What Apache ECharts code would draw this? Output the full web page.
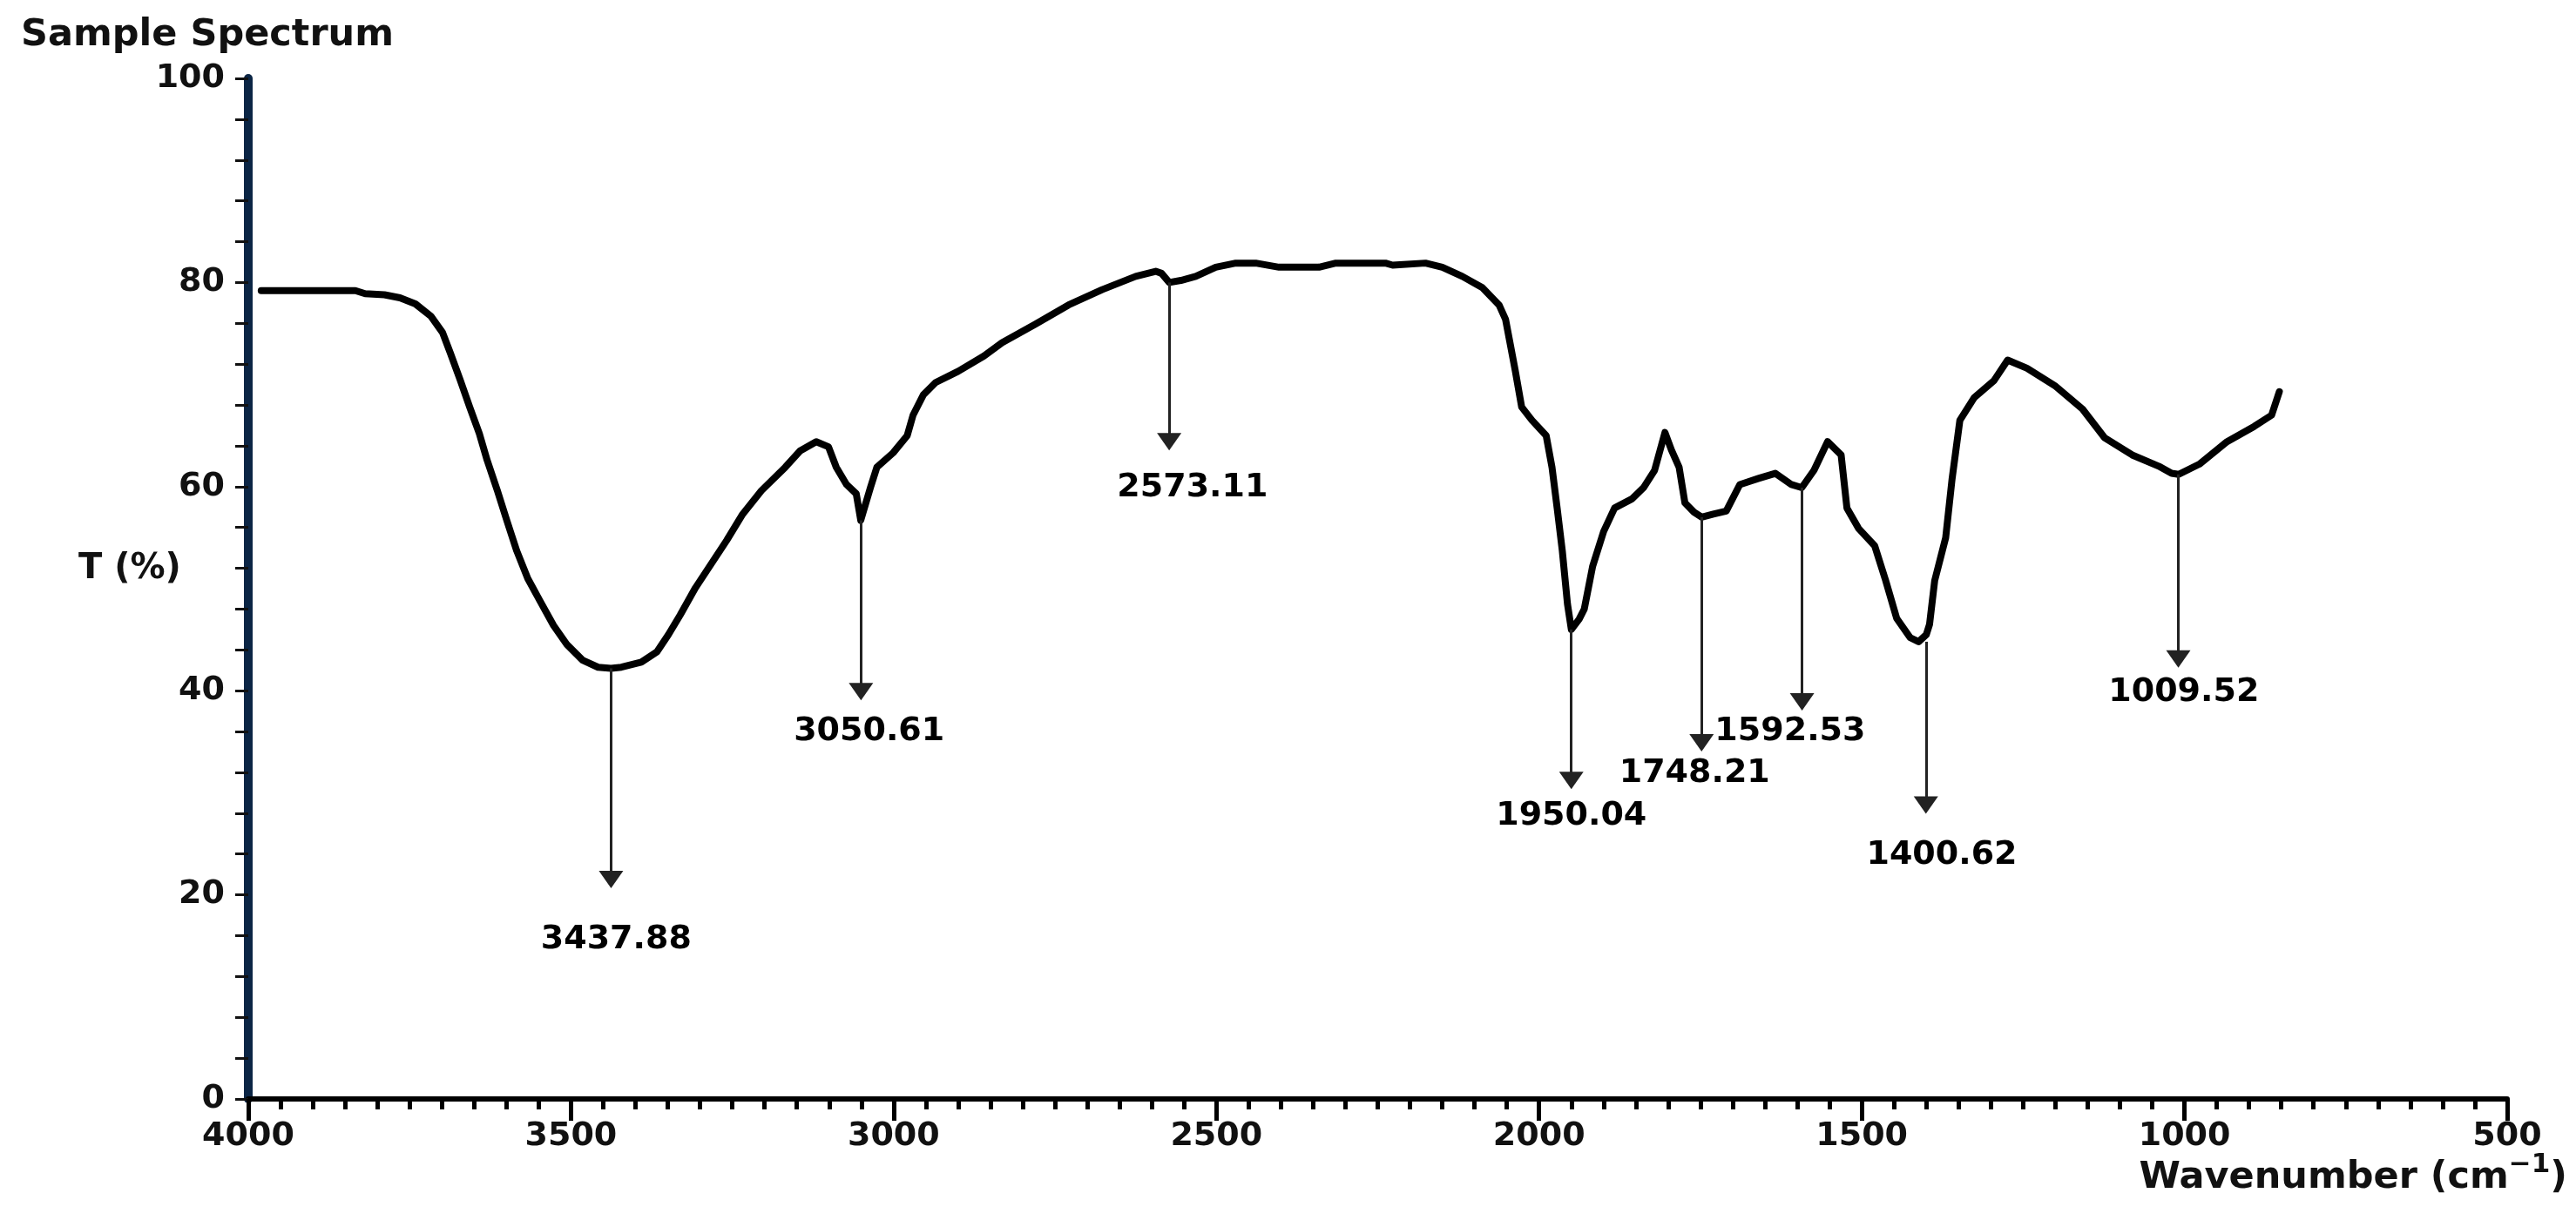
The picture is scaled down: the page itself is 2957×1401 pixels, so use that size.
<!DOCTYPE html>
<html>
<head>
<meta charset="utf-8">
<script src="https://cdn.jsdelivr.net/npm/echarts@6/dist/echarts.min.js"></script>
<style>
html,body{margin:0;padding:0;background:#ffffff;}
#chart{width:2957px;height:1401px;}
</style>
</head>
<body>
<div id="chart"></div>
<script>
// ---- Data ----
const wavenumbers = [3980,3900,3834,3819,3789,3765,3741,3717,3699,3687,3672,3657,3642,3630,3614,3599,3584,3567,3548,3527,3506,3482,3458,3438,3422,3391,3367,3349,3331,3307,3283,3259,3234,3205,3168,3145,3120,3101,3089,3073,3058,3051,3036,3026,3001,2979,2970,2954,2935,2900,2860,2832,2781,2729,2677,2625,2594,2585,2573,2555,2532,2501,2470,2439,2403,2341,2315,2238,2227,2176,2150,2119,2088,2062,2052,2046,2037,2027,2011,1989,1980,1972,1964,1956,1950,1938,1930,1917,1900,1883,1856,1838,1821,1805,1795,1783,1774,1760,1748,1730,1710,1689,1660,1634,1609,1593,1574,1553,1532,1523,1505,1480,1463,1446,1425,1412,1400,1395,1387,1370,1360,1348,1326,1295,1274,1244,1201,1158,1124,1081,1040,1020,1009,977,934,892,865,853];
const transmittance = [79.2,79.2,79.2,78.9,78.8,78.5,77.9,76.7,75.1,73.1,70.5,67.8,65.2,62.6,59.6,56.6,53.7,51.0,48.8,46.4,44.5,43.0,42.3,42.2,42.3,42.8,43.8,45.5,47.4,50.1,52.4,54.7,57.3,59.6,61.9,63.5,64.4,63.9,61.9,60.2,59.3,56.7,59.9,61.9,63.3,65.0,67.0,69.0,70.2,71.3,72.8,74.1,75.9,77.8,79.3,80.6,81.1,80.9,80.0,80.2,80.6,81.5,81.9,81.9,81.5,81.5,81.9,81.9,81.7,81.9,81.5,80.6,79.5,77.8,76.4,74.4,71.4,67.8,66.5,65.0,61.9,57.9,53.7,48.5,46.0,47.0,48.0,52.2,55.6,57.9,58.8,59.9,61.6,65.3,63.6,61.9,58.4,57.5,57.0,57.3,57.6,60.2,60.8,61.3,60.2,59.9,61.6,64.4,63.1,57.9,55.9,54.2,50.8,47.1,45.2,44.8,45.5,46.5,50.8,55.0,60.8,66.5,68.7,70.4,72.4,71.6,69.9,67.6,64.8,63.1,62.0,61.3,61.2,62.2,64.4,65.9,67.0,69.3];

const peakLabels = ['3437.88','3050.61','2573.11','1950.04','1748.21','1592.53','1400.62','1009.52'];
const peakWavenumbers = [3437.88,3050.61,2573.11,1950.04,1748.21,1592.53,1400.62,1009.52];
const arrowStartT = [42.2,56.7,80.0,46.0,57.0,59.9,44.8,61.2];
const arrowEndT = [21.5,39.9,64.4,31.2,34.9,38.9,28.8,43.1];
const labelWavenumbers = [3430,3038,2537,1950,1759,1611,1376,1001];
const labelT = [15.6,36.0,59.9,27.7,31.9,36.0,23.9,39.8];

const xTickValues = [4000,3500,3000,2500,2000,1500,1000,500];
const yTickValues = [0,20,40,60,80,100];

const FONT = 'DejaVu Sans';

const chart = echarts.init(document.getElementById('chart'), null, {renderer:'canvas'});

const spectrum = wavenumbers.map((w,i)=>[w, transmittance[i]]);
const arrows = peakWavenumbers.map((w,i)=>[
  {coord:[w, arrowStartT[i]], symbol:'none'},
  {coord:[w, arrowEndT[i]], symbol:'triangle', symbolSize:[28,20]}
]);
const labelPoints = labelWavenumbers.map((w,i)=>({name: peakLabels[i], value:[w, labelT[i]]}));

chart.setOption({
  animation:false,
  backgroundColor:'#ffffff',
  title:{
    text:'Sample Spectrum',
    left:19, top:14,
    textStyle:{fontFamily:FONT, fontWeight:'bold', fontSize:43, color:'#111'}
  },
  grid:{left:285, right:79, top:90, bottom:139, containLabel:false, outerBoundsMode:'none'},
  xAxis:{
    type:'value', inverse:true, min:500, max:4000, interval:500,
    splitLine:{show:false},
    axisLine:{show:true, onZero:false, lineStyle:{color:'#000', width:6}},
    axisTick:{show:true, inside:false, length:25, lineStyle:{color:'#000', width:5}},
    minorTick:{show:true, splitNumber:10, length:12, lineStyle:{color:'#000', width:5}},
    axisLabel:{
      margin:24, fontFamily:FONT, fontWeight:'bold', fontSize:38, color:'#111',
      showMinLabel:true, showMaxLabel:true,
      formatter:function(v){ return xTickValues.indexOf(v) >= 0 ? String(v) : ''; }
    }
  },
  yAxis:{
    type:'value', min:0, max:100, interval:20,
    splitLine:{show:false},
    axisLine:{show:true, onZero:false, lineStyle:{color:'#0b2545', width:10}},
    axisTick:{show:true, inside:false, length:15, lineStyle:{color:'#111', width:3}},
    minorTick:{show:true, splitNumber:5, length:15, lineStyle:{color:'#111', width:3}},
    axisLabel:{
      margin:27, fontFamily:FONT, fontWeight:'bold', fontSize:38, color:'#111',
      formatter:function(v){ return yTickValues.indexOf(v) >= 0 ? String(v) : ''; }
    }
  },
  graphic:[
    {
      type:'text', left:90, top:634,
      style:{text:'T (%)', fontFamily:FONT, fontWeight:'bold', fontSize:40, fill:'#111'}
    },
    {
      type:'text', right:10, top:1322,
      style:{
        text:'{m|Wavenumber (cm}{s|\u22121}{m|)}',
        rich:{
          m:{fontFamily:FONT, fontWeight:'bold', fontSize:43, fill:'#111', verticalAlign:'bottom', lineHeight:52},
          s:{fontFamily:FONT, fontWeight:'bold', fontSize:31, fill:'#111', verticalAlign:'top', lineHeight:52, padding:[0,0,22,0]}
        }
      }
    }
  ],
  series:[
    {
      type:'line', data:spectrum, showSymbol:false, smooth:false, silent:true,
      lineStyle:{color:'#000', width:8, join:'round', cap:'round'},
      z:3,
      markLine:{
        silent:true, animation:false,
        lineStyle:{color:'#222', width:3, type:'solid', opacity:1},
        itemStyle:{color:'#000', opacity:1},
        label:{show:false},
        emphasis:{disabled:true},
        data:arrows
      }
    },
    {
      type:'scatter', data:labelPoints, symbolSize:0, silent:true, z:5,
      itemStyle:{opacity:1},
      label:{
        show:true, position:'inside', opacity:1,
        formatter:function(p){ return p.name; },
        fontFamily:FONT, fontWeight:'bold', fontSize:38, color:'#000'
      }
    }
  ]
});
</script>
</body>
</html>
